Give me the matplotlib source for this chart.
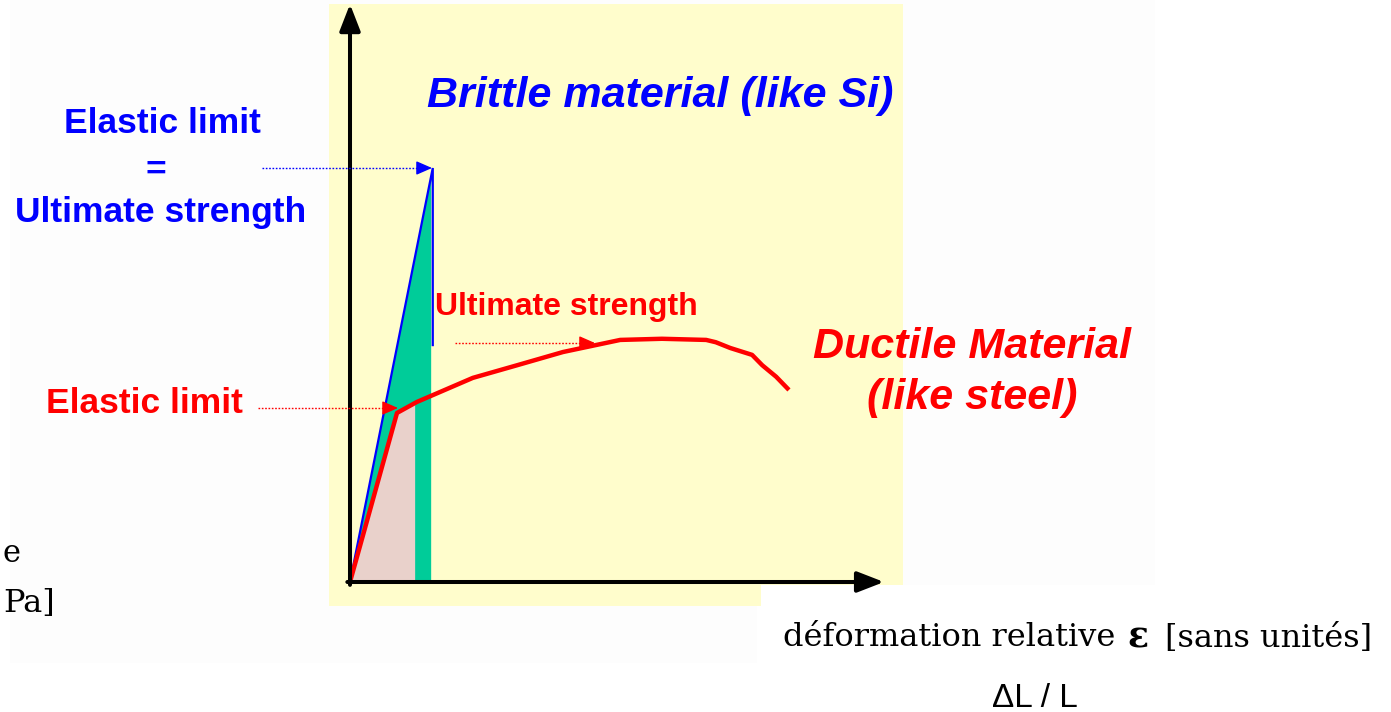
import matplotlib
matplotlib.use("Agg")
import matplotlib.pyplot as plt
from matplotlib.patches import Rectangle, Polygon

# schematic stress-strain data (arbitrary units, origin at 0,0)
ductile_strain = [0, 0.88, 1.25, 2.30, 3.13, 3.99, 5.06, 5.84, 6.67, 6.85, 7.12, 7.53, 7.72, 7.98, 8.22]
ductile_stress = [0, 2.94, 3.13, 3.55, 3.77, 4.00, 4.21, 4.23, 4.21, 4.17, 4.07, 3.95, 3.77, 3.57, 3.34]

brittle_strain = [0, 1.55, 1.55]
brittle_stress = [0, 7.20, 4.12]

green_strain = [0, 1.55, 1.52, 1.52]
green_stress = [0, 7.20, 6.9, 0]

pink_strain = [0, 0.88, 1.22, 1.22]
pink_stress = [0, 2.94, 3.11, 0]

W, H = 1391, 712
YELLOW = "#FFFDCC"
GREEN = "#00CC99"
PINK = "#E9D1CB"
SANS = "Liberation Sans"
SERIF = "DejaVu Serif"

fig = plt.figure(figsize=(W / 100, H / 100), dpi=100)
fig.patch.set_facecolor("white")

# background layer in pixel coordinates
bg = fig.add_axes([0, 0, 1, 1])
bg.set_xlim(0, W)
bg.set_ylim(H, 0)
bg.axis("off")

bg.add_patch(Rectangle((10, 0), 747, 663, color="#FDFDFD", lw=0))
bg.add_patch(Rectangle((757, 0), 398, 585, color="#FDFDFD", lw=0))
bg.add_patch(Rectangle((329, 4), 574, 581, color=YELLOW, lw=0))
bg.add_patch(Rectangle((329, 585), 432, 21, color=YELLOW, lw=0))

# plot area
ax = fig.add_axes([350 / W, (H - 582) / H, 534 / W, 575 / H])
ax.set_xlim(0, 10)
ax.set_ylim(0, 10)
ax.axis("off")
ax.patch.set_alpha(0)

ax.add_patch(Polygon(list(zip(green_strain, green_stress)), closed=True,
                     facecolor=GREEN, edgecolor="none", zorder=2))
ax.add_patch(Polygon(list(zip(pink_strain, pink_stress)), closed=True,
                     facecolor=PINK, edgecolor="none", zorder=3))
ax.plot(brittle_strain, brittle_stress, color="#0000FF", lw=1.6, zorder=4,
        solid_joinstyle="miter")
ax.plot(ductile_strain, ductile_stress, color="#FF0000", lw=3.2, zorder=5,
        solid_joinstyle="round", solid_capstyle="butt")

# axes arrows
arrow_kw = dict(arrowstyle="-|>,head_length=0.9,head_width=0.35", color="black",
                lw=2.9, mutation_scale=18, shrinkA=0, shrinkB=0)
ax.annotate("", xy=(0, 10.05), xytext=(0, -0.05), arrowprops=arrow_kw,
            annotation_clip=False, zorder=6)
ax.annotate("", xy=(10, 0), xytext=(-0.05, 0), arrowprops=arrow_kw,
            annotation_clip=False, zorder=6)

# overlay layer (pixel coordinates) for annotations and text
top = fig.add_axes([0, 0, 1, 1])
top.set_xlim(0, W)
top.set_ylim(H, 0)
top.axis("off")
top.patch.set_alpha(0)


def dotted_arrow(x0, x1, y, color):
    top.plot([x0, x1 - 6], [y, y], color=color, lw=1.0, ls=(0, (1.2, 1.2)), zorder=7)
    top.annotate("", xy=(x1, y), xytext=(x1 - 8, y),
                 arrowprops=dict(arrowstyle="-|>,head_length=0.8,head_width=0.35",
                                 color=color, lw=1.0, mutation_scale=12,
                                 shrinkA=0, shrinkB=0), zorder=7)


dotted_arrow(262, 432, 168, "#0000FF")
dotted_arrow(258, 398, 408, "#FF0000")
dotted_arrow(455, 595, 343, "#FF0000")

# labels
top.text(427, 107, "Brittle material (like Si)", color="#0000FF", fontsize=31,
         fontweight="bold", fontstyle="italic", family=SANS, va="baseline", ha="left")
top.text(162, 133, "Elastic limit", color="#0000FF", fontsize=25.5,
         fontweight="bold", family=SANS, va="baseline", ha="center")
top.text(156, 170, "=", color="#0000FF", fontsize=25.5,
         fontweight="bold", family=SANS, va="center", ha="center")
top.text(161, 222, "Ultimate strength", color="#0000FF", fontsize=25.5,
         fontweight="bold", family=SANS, va="baseline", ha="center")
top.text(144, 413, "Elastic limit", color="#FF0000", fontsize=25.5,
         fontweight="bold", family=SANS, va="baseline", ha="center")
top.text(435, 315, "Ultimate strength", color="#FF0000", fontsize=23,
         fontweight="bold", family=SANS, va="baseline", ha="left")
top.text(972, 358, "Ductile Material", color="#FF0000", fontsize=31,
         fontweight="bold", fontstyle="italic", family=SANS, va="baseline", ha="center")
top.text(972, 409, "(like steel)", color="#FF0000", fontsize=31,
         fontweight="bold", fontstyle="italic", family=SANS, va="baseline", ha="center")

top.text(783, 646, "déformation relative", color="black", fontsize=23,
         family=SERIF, va="baseline", ha="left")
top.text(1127, 647, "ε", color="black", fontsize=25, fontweight="bold",
         family=SERIF, va="baseline", ha="left")
top.text(1372, 647, "[sans unités]", color="black", fontsize=23,
         family=SERIF, va="baseline", ha="right")
top.text(1035, 707, "ΔL / L", color="black", fontsize=24,
         family=SANS, va="baseline", ha="center")

top.text(2, 562, "e", color="black", fontsize=22, family=SERIF,
         va="baseline", ha="left")
top.text(55, 612, "Pa]", color="black", fontsize=23, family=SERIF,
         va="baseline", ha="right")

fig.savefig("out.png", dpi=100, facecolor="white")
